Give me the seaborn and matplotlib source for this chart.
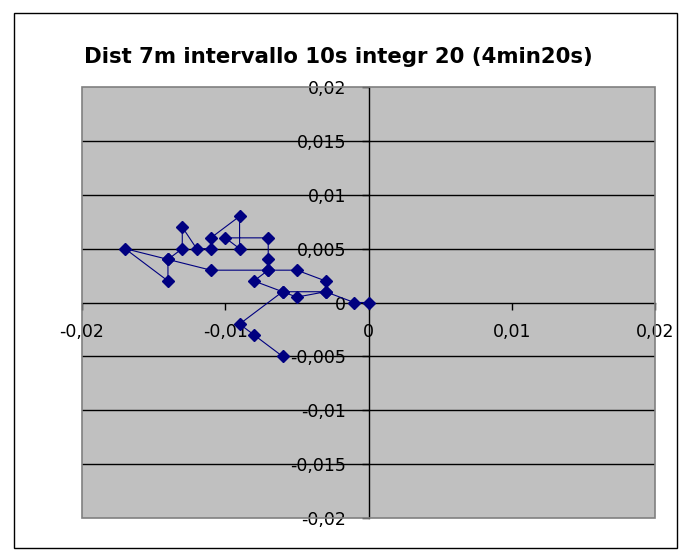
import matplotlib
matplotlib.use("Agg")
import matplotlib.pyplot as plt
import seaborn as sns
import pandas as pd
from matplotlib.patches import Rectangle
from matplotlib.ticker import FuncFormatter, FixedLocator

# Displacement samples (x, y) in metres, in acquisition order
x_vals = [0, -0.001, -0.003, -0.003, -0.005, -0.007, -0.007, -0.007, -0.010,
          -0.009, -0.009, -0.011, -0.011, -0.012, -0.013, -0.013, -0.014,
          -0.017, -0.014, -0.014, -0.011, -0.007, -0.008, -0.006, -0.003,
          -0.005, -0.006, -0.009, -0.008, -0.006]
y_vals = [0, 0, 0.001, 0.002, 0.003, 0.003, 0.004, 0.006, 0.006,
          0.005, 0.008, 0.006, 0.005, 0.005, 0.007, 0.005, 0.004,
          0.005, 0.002, 0.004, 0.003, 0.003, 0.002, 0.001, 0.001,
          0.0005, 0.001, -0.002, -0.003, -0.005]

x_ticks = [-0.02, -0.01, 0, 0.01, 0.02]
y_ticks = [-0.02, -0.015, -0.01, -0.005, 0, 0.005, 0.01, 0.015, 0.02]
title = "Dist 7m intervallo 10s integr 20 (4min20s)"

sns.set_theme(style="white")
plt.rcParams['font.family'] = ['DejaVu Sans']
plt.rcParams['text.color'] = 'black'

W, H = 687, 556
fig = plt.figure(figsize=(W / 100, H / 100), dpi=100)
fig.patch.set_facecolor('white')

# outer chart frame
fig.patches.append(Rectangle((14 / W, 1 - 548 / H), (677 - 14) / W, (548 - 13) / H,
                             transform=fig.transFigure, fill=False,
                             edgecolor='black', lw=1))

ax = fig.add_axes([82 / W, 1 - 518 / H, (655 - 82) / W, (518 - 87) / H])
ax.set_facecolor('#C0C0C0')

df = pd.DataFrame({'x': x_vals, 'y': y_vals})
sns.lineplot(data=df, x='x', y='y', sort=False, estimator=None, ax=ax,
             color='#000080', lw=0.8, marker='D', markersize=6.5,
             markeredgecolor='#000080', markeredgewidth=1, zorder=5)

ax.set_xlim(-0.02, 0.02)
ax.set_ylim(-0.02, 0.02)
ax.set_xlabel('')
ax.set_ylabel('')

# horizontal gridlines
for v in y_ticks[1:-1]:
    if v != 0:
        ax.axhline(v, color='black', lw=1, zorder=1)

# axes crossing at the origin
for side in ('top', 'right'):
    ax.spines[side].set_visible(False)
for side in ('left', 'bottom'):
    ax.spines[side].set_position(('data', 0))
    ax.spines[side].set_color('black')
    ax.spines[side].set_linewidth(1)
    ax.spines[side].set_zorder(2)

# plot-area border
ax.add_patch(Rectangle((0, 0), 1, 1, transform=ax.transAxes, fill=False,
                       edgecolor='#808080', lw=1.2, clip_on=False, zorder=3))


def comma_fmt(v, _):
    v = round(v, 4)
    if v == 0:
        return '0'
    return f"{v:g}".replace('.', ',')


ax.xaxis.set_major_locator(FixedLocator(x_ticks))
ax.yaxis.set_major_locator(FixedLocator(y_ticks))
ax.xaxis.set_major_formatter(FuncFormatter(comma_fmt))
ax.yaxis.set_major_formatter(FuncFormatter(comma_fmt))
ax.tick_params(axis='x', direction='out', length=5, width=1, colors='black',
               labelsize=12.5, pad=10, bottom=True)
ax.tick_params(axis='y', direction='out', length=5, width=1, colors='black',
               labelsize=12.5, pad=11, left=True)
ax.grid(False)

fig.text(338 / W, 1 - 57 / H, title, ha='center', va='center', color='black',
         fontsize=15.3, fontweight='bold', family=['DejaVu Sans'])

fig.savefig('out.png', dpi=100, facecolor='white')
